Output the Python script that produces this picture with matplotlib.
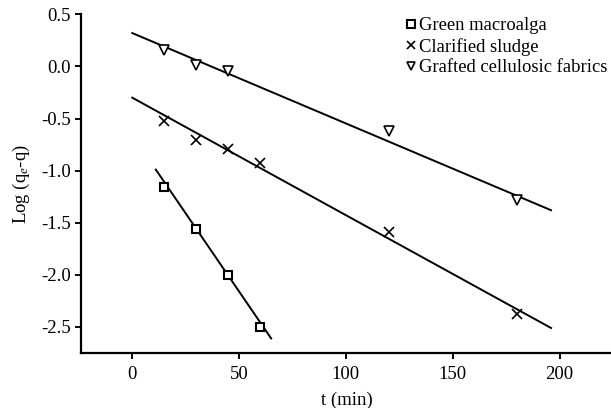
import matplotlib
matplotlib.use("Agg")
import matplotlib.pyplot as plt

plt.rcParams['font.family'] = ['Liberation Serif', 'DejaVu Serif']
plt.rcParams['mathtext.fontset'] = 'custom'
plt.rcParams['mathtext.rm'] = 'Liberation Serif'
plt.rcParams['mathtext.it'] = 'Liberation Serif:italic'

# Data points
green_t = [15, 30, 45, 60]
green_y = [-1.16, -1.56, -2.00, -2.50]
sludge_t = [15, 30, 45, 60, 120, 180]
sludge_y = [-0.52, -0.71, -0.79, -0.93, -1.59, -2.38]
fabric_t = [15, 30, 45, 120, 180]
fabric_y = [0.16, 0.01, -0.04, -0.62, -1.28]

# Fitted line endpoints
green_fit_t = [11, 65]
green_fit_y = [-0.99, -2.61]
sludge_fit_t = [0, 196]
sludge_fit_y = [-0.30, -2.51]
fabric_fit_t = [0, 196]
fabric_fit_y = [0.32, -1.38]

labels = ["Green macroalga", "Clarified sludge", "Grafted cellulosic fabrics"]
xticks = [0, 50, 100, 150, 200]
yticks = [0.5, 0.0, -0.5, -1.0, -1.5, -2.0, -2.5]

fig = plt.figure(figsize=(6.11, 4.08), dpi=100)
ax = fig.add_axes([81/611, 1-353/408, (613-81)/611, (353-14.3)/408])

lw = 1.4
ax.plot(green_fit_t, green_fit_y, color='black', lw=lw)
ax.plot(sludge_fit_t, sludge_fit_y, color='black', lw=lw)
ax.plot(fabric_fit_t, fabric_fit_y, color='black', lw=lw)

h1, = ax.plot(green_t, green_y, linestyle='none', marker='s', ms=6.3, mfc='white', mec='black', mew=1.5, label=labels[0])
h2, = ax.plot(sludge_t, sludge_y, linestyle='none', marker='x', ms=6.5, color='black', mew=1.2, label=labels[1])
h3, = ax.plot(fabric_t, fabric_y, linestyle='none', marker='v', ms=7, mfc='white', mec='black', mew=1.2, label=labels[2])

ax.set_xlim(-24, 225)
ax.set_ylim(-2.75, 0.5)
ax.set_xticks(xticks)
ax.set_xticklabels([str(v) for v in xticks])
ax.set_yticks(yticks)
ax.set_yticklabels([f"{v:.1f}" for v in yticks])

for s in ['top', 'right']:
    ax.spines[s].set_visible(False)
for s in ['left', 'bottom']:
    ax.spines[s].set_linewidth(1.6)
ax.tick_params(direction='out', length=4.5, width=1.4, labelsize=13.5)
ax.tick_params(axis='x', pad=5)
ax.tick_params(axis='y', pad=3)

ax.set_xlabel("t (min)", fontsize=13.5, labelpad=6)
ax.set_ylabel("Log (q$_e$-q)", fontsize=13.5, labelpad=6)

leg = fig.legend(handles=[h1, h2, h3], loc='upper left', bbox_to_anchor=(405/611, 1-17/408),
                 frameon=False, fontsize=13.4, handlelength=0.6, handletextpad=0.15,
                 labelspacing=0.2, borderaxespad=0, borderpad=0, markerscale=0.85)

fig.savefig("out.png", dpi=100)
